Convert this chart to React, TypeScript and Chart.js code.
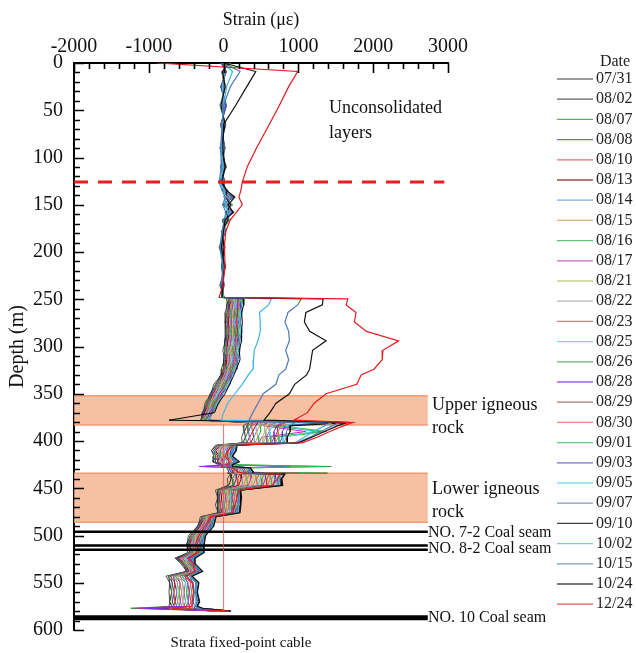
import React, { useEffect, useRef } from 'react';
import { Chart, registerables } from 'chart.js';

Chart.register(...registerables);

const FONT = "'Liberation Serif', 'Times New Roman', serif";

// Depth sampling points (m) shared by every series
const DEPTHS = [
  0, 9, 25, 45, 65, 90, 110, 126, 135, 142, 150, 158, 166, 178, 195, 215, 235, 248,
  249.5, 256, 264, 274, 284, 294, 304, 314, 324, 330, 340, 350, 360, 370, 378, 380.5, 384, 390, 396, 402,
  404.5, 410, 416, 422, 425, 427, 428.5, 433, 434, 435, 440, 447, 452, 460, 468, 476, 480, 490, 500, 510,
  518, 524, 530, 538, 543, 550, 560, 570, 575, 577, 580,
];

const DATES = [
  '07/31', '08/02', '08/07', '08/08', '08/10', '08/13', '08/14', '08/15', '08/16', '08/17',
  '08/21', '08/22', '08/23', '08/25', '08/26', '08/28', '08/29', '08/30', '09/01', '09/03',
  '09/05', '09/07', '09/10', '10/02', '10/15', '10/24', '12/24',
];

const COLORS = [
  '#4d4d4d', '#2b2b2b', '#2e8b2e', '#3b3bb0', '#e23c3c', '#7a1010', '#5b8fd6', '#c8964a', '#2fae55', '#c02cc0',
  '#b8c060', '#9a9a9a', '#a0605a', '#44c8f0', '#3a9a3a', '#7a2ee6', '#8b4a3a', '#f05a5a', '#30c050', '#4040c8',
  '#50d0f0', '#5878a8', '#000000', '#3fb4e0', '#4f79b5', '#111111', '#e8191e',
];

// Strain (με) per series, one value per depth above
const S_0731 = [
  -40, 40, -40, 40, -40, 20, -40, 20, -20, 140, -20, 140, -20, 30, -60, 30, -50, 10,
  40, 50, 20, 30, 20, 20, -10, 10, -30, -30, -130, -170, -250, -270, -310, 330, 260, 270, 240, 250,
  -110, -160, -130, -140, -70, -10, 45, 70, 50, 90, 50, 60, -110, -80, -110, -70, -310, -340, -470, -490, -480, -640, -570, -490, -770, -720, -730, -720, -730, -890, -110,
];
const S_0802 = [
  -10, 25, -25, 20, -25, 5, -20, 0, 0, 110, 10, 115, 0, 15, -40, 15, -35, 0,
  70, 40, 50, 20, 50, 10, 20, 0, 0, -40, -100, -180, -220, -285, -285, 340, 310, 280, 290, 260,
  -80, -165, -100, -145, -40, -25, 80, 65, 85, 100, 100, 70, -75, -85, -75, -75, -280, -350, -440, -500, -450, -650, -540, -500, -735, -720, -695, -720, -695, -880, -80,
];
const S_0807 = [
  25, 10, -10, 0, -10, -10, 0, -15, 15, 75, 45, 85, 25, 0, -25, 0, -25, -10,
  60, 70, 40, 50, 40, 40, 10, 30, -10, -15, -110, -155, -235, -255, -300, 390, 320, 325, 295, 305,
  -85, -130, -110, -110, -55, 0, 75, 100, 1390, 155, 115, 125, -80, -50, -80, -45, -290, -320, -450, -470, -460, -615, -555, -470, -740, -685, -695, -685, -695, -1240, -90,
];
const S_0808 = [
  55, -10, 10, -20, 10, -30, 15, -35, 35, 45, 75, 60, 50, -10, -5, -10, -10, -15,
  90, 60, 70, 40, 70, 30, 40, 20, 15, -25, -80, -165, -205, -270, -275, 400, 365, 335, 345, 310,
  -50, -135, -75, -115, -25, 900, 105, 95, 115, 170, 170, 135, -45, -60, -45, -50, -265, -335, -420, -480, -430, -625, -525, -485, -705, -690, -660, -685, -660, -830, -65,
];
const S_0810 = [
  90, -25, 25, -40, 25, -45, 30, -55, 50, 15, 110, 30, 70, -25, 10, -25, 5, -25,
  80, 90, 60, 70, 60, 60, 30, 50, 5, 0, -90, -135, -215, -245, -290, 455, 375, 385, 350, 360,
  -60, -100, -85, -80, -35, 10, 100, 130, 110, 220, 180, 190, -50, -25, -50, -20, -275, -305, -430, -450, -440, -595, -535, -455, -710, -650, -665, -650, -665, -780, -75,
];
const S_0813 = [
  -25, 35, -35, 30, -35, 15, -35, 10, -15, 130, -5, 130, -10, 25, -55, 25, -45, 5,
  110, 80, 90, 60, 90, 50, 60, 40, 35, -10, -60, -145, -190, -255, -270, 465, 425, 390, 400, 365,
  -25, -110, -55, -80, -10, 0, 135, 120, 145, 235, 235, 200, -15, -30, -15, -25, -245, -315, -400, -460, -410, -605, -510, -465, -670, -655, -625, -650, -625, -1000, -45,
];
const S_0814 = [
  5, 20, -20, 10, -20, 0, -15, -5, 5, 95, 25, 100, 10, 10, -35, 10, -30, 0,
  100, 110, 80, 90, 80, 80, 50, 65, 25, 15, -75, -120, -200, -230, -285, 515, 430, 440, 405, 415,
  -35, -75, -65, -45, -20, 25, 130, 155, 135, 285, 245, 255, -20, 5, -20, 5, -255, -285, -410, -430, -425, -570, -520, -435, -675, -615, -630, -615, -630, -725, -55,
];
const S_0815 = [
  35, 0, 0, -10, 0, -20, 5, -25, 25, 65, 55, 75, 35, 0, -15, 0, -20, -10,
  130, 100, 110, 80, 110, 70, 80, 55, 55, 5, -45, -130, -175, -240, -260, 525, 480, 445, 455, 420,
  0, -80, -35, -50, 5, 10, 165, 150, 170, 300, 300, 265, 15, 0, 15, 0, -225, -295, -380, -440, -395, -580, -495, -445, -640, -620, -590, -615, -590, -720, -25,
];
const S_0816 = [
  70, -15, 15, -30, 15, -35, 20, -40, 40, 30, 90, 45, 55, -15, 0, -15, -5, -20,
  120, 130, 100, 110, 100, 100, 70, 85, 45, 30, -55, -100, -185, -215, -275, 580, 490, 495, 460, 470,
  -10, -45, -45, -15, -5, 35, 160, 185, 1200, 350, 310, 320, 10, 35, 10, 30, -235, -265, -390, -410, -405, -550, -505, -415, -645, -580, -595, -580, -595, -670, -35,
];
const S_0817 = [
  100, -30, 30, -50, 30, -50, 40, -60, 60, 0, 120, 20, 80, -30, 20, -30, 10, -30,
  150, 120, 130, 100, 130, 90, 100, 75, 70, 20, -25, -115, -155, -230, -250, 590, 535, 1100, 510, 475,
  25, -50, -10, -20, 25, -330, 190, 180, 200, 365, 365, 330, 45, 25, 45, 25, -210, -280, -360, -420, -375, -555, -475, -430, -610, -585, -560, -580, -560, -1150, -10,
];
const S_0821 = [
  -15, 30, -25, 25, -25, 10, -25, 5, -5, 115, 5, 120, 0, 20, -45, 20, -40, 0,
  140, 150, 120, 130, 120, 120, 90, 105, 60, 45, -35, -85, -170, -200, -265, 640, 545, 550, 515, 525,
  15, -15, -20, 15, 10, 45, 185, 215, 195, 415, 375, 385, 40, 60, 40, 55, -220, -250, -370, -390, -385, -525, -490, -400, -615, -545, -560, -545, -560, -615, -20,
];
const S_0822 = [
  20, 10, -10, 5, -10, -10, -10, -15, 10, 85, 40, 90, 20, 5, -30, 5, -25, -5,
  170, 140, 150, 120, 150, 110, 120, 95, 90, 35, -5, -95, -140, -215, -240, 650, 595, 560, 565, 530,
  50, -20, 10, 10, 40, 30, 220, 210, 230, 430, 430, 395, 75, 55, 75, 50, -190, -260, -340, -400, -355, -535, -460, -410, -580, -550, -525, -545, -525, -610, 10,
];
const S_0823 = [
  50, -5, 5, -15, 5, -25, 10, -30, 30, 50, 70, 65, 45, -10, -10, -10, -10, -15,
  160, 170, 140, 150, 140, 140, 110, 125, 80, 60, -15, -65, -150, -190, -255, 700, 605, 610, 570, 580,
  40, 15, 0, 45, 30, 55, 215, 245, 1000, 480, 440, 450, 70, 90, 70, 80, -200, -230, -350, -370, -365, -505, -470, -380, -585, -510, -530, -510, -530, -560, 0,
];
const S_0825 = [
  80, -20, 20, -40, 20, -40, 30, -50, 50, 20, 100, 35, 65, -20, 10, -20, 0, -25,
  190, 160, 170, 140, 170, 130, 140, 115, 110, 50, 15, -80, -125, -200, -230, 715, 650, 615, 620, 585,
  75, 10, 30, 40, 55, 40, 250, 240, 260, 495, 495, 460, 105, 85, 105, 75, -170, -240, -320, -380, -335, -510, -445, -390, -550, -510, -490, -510, -490, -555, 30,
];
const S_0826 = [
  -35, 35, -35, 35, -35, 15, -35, 15, -15, 135, -15, 135, -15, 25, -55, 25, -45, 10,
  180, 190, 160, 170, 160, 160, 130, 145, 95, 80, 5, -50, -135, -175, -245, 1500, 660, 1300, 630, 630,
  70, 45, 25, 75, 45, 1440, 240, 275, 255, 550, 510, 510, 100, 115, 100, 110, -185, -215, -330, -350, -345, -480, -455, -365, -555, -475, -495, -470, -495, -510, 15,
];
const S_0828 = [
  0, 20, -20, 15, -20, 0, -20, 0, 0, 100, 20, 110, 5, 15, -40, 15, -35, 0,
  210, 180, 190, 160, 190, 150, 160, 130, 125, 65, 30, -60, -105, -190, -220, 775, 710, 675, 675, 640,
  100, 35, 55, 70, 75, -250, 275, 270, 290, 560, 560, 525, 135, 110, 135, 100, -155, -225, -300, -360, -320, -490, -425, -375, -520, -480, -460, -475, -460, -1050, 45,
];
const S_0829 = [
  30, 5, -5, -5, -5, -15, 0, -20, 20, 70, 50, 80, 30, 0, -20, 0, -20, -10,
  200, 210, 180, 190, 180, 180, 150, 160, 115, 95, 20, -30, -120, -160, -240, 825, 720, 720, 685, 685,
  95, 70, 45, 110, 60, 80, 270, 300, 280, 615, 575, 575, 130, 145, 130, 135, -165, -195, -310, -330, -330, -460, -440, -345, -520, -440, -460, -435, -460, -455, 35,
];
const S_0830 = [
  60, -10, 10, -25, 10, -30, 20, -40, 40, 40, 80, 55, 50, -15, 0, -15, -5, -20,
  230, 200, 210, 180, 210, 170, 180, 150, 145, 80, 50, -45, -90, -175, -215, 835, 765, 730, 730, 695,
  125, 65, 75, 105, 90, 65, 305, 295, 315, 625, 625, 590, 165, 140, 165, 125, -135, -205, -280, -340, -300, -465, -410, -355, -485, -445, -425, -440, -425, -445, 65,
];
const S_0901 = [
  95, -25, 25, -45, 25, -45, 35, -55, 55, 5, 115, 25, 75, -25, 15, -25, 5, -30,
  220, 230, 200, 210, 200, 200, 170, 180, 135, 110, 40, -15, -100, -150, -230, 1600, 775, 1380, 740, 740,
  120, 100, 65, 140, 80, 1300, 300, 330, 310, 680, 640, 640, 160, 175, 160, 160, -145, -175, -290, -310, -310, -435, -420, -325, -490, -405, -430, -400, -430, -400, 55,
];
const S_0903 = [
  -20, 30, -30, 30, -30, 10, -30, 10, -10, 120, 0, 125, -5, 20, -50, 20, -40, 5,
  250, 220, 230, 200, 230, 190, 200, 170, 165, 95, 70, -25, -75, -160, -205, 1350, 825, 785, 785, 750,
  150, 95, 95, 135, 105, 75, 335, 325, 345, 690, 690, 655, 195, 170, 195, 150, -115, -185, -260, -320, -280, -445, -395, -335, -455, -410, -390, -405, -390, -390, 85,
];
const S_0905 = [
  10, 15, -15, 5, -15, -5, -10, -10, 10, 90, 30, 95, 15, 10, -30, 10, -30, -5,
  240, 250, 220, 230, 220, 220, 190, 200, 150, 125, 60, 0, -85, -135, -220, 950, 830, 1200, 795, 795,
  145, 130, 90, 170, 95, 100, 325, 360, 340, 745, 705, 705, 190, 200, 190, 185, -130, -160, -270, -290, -290, -410, -405, -310, -460, -370, -395, -365, -395, -345, 70,
];
const S_0907 = [
  45, 0, 0, -15, 0, -20, 5, -30, 25, 60, 65, 70, 40, -5, -15, -5, -15, -15,
  270, 240, 250, 220, 250, 210, 220, 190, 180, 110, 90, -10, -60, -145, -195, 960, 880, 840, 840, 805,
  175, 125, 120, 165, 120, 85, 360, 355, 375, 755, 755, 720, 225, 195, 225, 175, -100, -170, -240, -300, -260, -420, -380, -320, -425, -375, -355, -370, -355, -335, 100,
];
const S_0910 = [
  75, -15, 20, -35, 20, -35, 25, -45, 45, 25, 95, 40, 60, -20, 5, -20, 0, -25,
  260, 270, 240, 250, 240, 240, 210, 220, 170, 140, 80, 20, -70, -120, -730, 1700, 890, 890, 850, 850,
  170, 160, 110, 200, 110, 110, 355, 390, 370, 810, 770, 770, 220, 230, 220, 210, -110, -140, -250, -270, -270, -390, -390, -290, -430, -335, -360, -330, -360, -290, 90,
];
const S_1002 = [
  0, 120, 40, 0, -20, -30, -10, -40, 0, 30, 20, 60, 10, -10, -40, 0, -20, -10,
  640, 600, 480, 490, 490, 460, 410, 400, 395, 330, 250, 150, 55, 0, -30, 1450, 1350, 1200, 1080, 950,
  160, 140, 100, 180, 100, 95, 340, 370, 360, 780, 740, 740, 200, 210, 200, 190, -120, -150, -260, -280, -280, -400, -400, -300, -440, -350, -370, -345, -370, -300, 80,
];
const S_1015 = [
  0, 220, 90, 0, -20, -40, -30, -60, -20, 20, -10, 30, 10, -20, -50, -10, -30, -20,
  1040, 990, 860, 820, 870, 880, 830, 870, 830, 740, 700, 530, 460, 390, 340, 1550, 1450, 1300, 1150, 980,
  140, 120, 90, 160, 90, 90, 330, 360, 350, 760, 720, 730, 190, 200, 190, 180, -130, -160, -270, -290, -290, -410, -410, -310, -450, -360, -380, -350, -380, -310, 60,
];
const S_1024 = [
  0, 430, 310, 160, 0, -10, 20, -20, 40, 150, 60, 130, 20, 0, -30, 10, -10, -20,
  1330, 1320, 1100, 1080, 1150, 1370, 1190, 1170, 1150, 1110, 950, 880, 700, 620, 540, 1650, 1520, 1350, 1180, 1000,
  180, 170, 120, 210, 120, 120, 360, 400, 380, 820, 780, 790, 230, 240, 230, 220, -100, -130, -240, -260, -260, -380, -380, -280, -420, -330, -350, -320, -350, -280, 100,
];
const S_1224 = [
  -900, 990, 870, 745, 610, 440, 315, 250, 230, 205, 250, 170, 90, 30, 10, 20, -10, -60,
  1660, 1640, 1770, 1750, 1910, 2340, 2130, 2120, 2010, 1840, 1780, 1370, 1210, 1120, 940, 1730, 1600, 1420, 1250, 1050,
  130, 60, 20, 80, 40, 50, 120, 200, 260, 760, 720, 650, 200, 180, 150, 120, -170, -250, -330, -380, -360, -470, -400, -390, -500, -420, -400, -420, -420, -700, 70,
];

const SERIES = [
  S_0731, S_0802, S_0807, S_0808, S_0810, S_0813, S_0814, S_0815, S_0816, S_0817,
  S_0821, S_0822, S_0823, S_0825, S_0826, S_0828, S_0829, S_0830, S_0901, S_0903,
  S_0905, S_0907, S_0910, S_1002, S_1015, S_1024, S_1224,
];

// Annotations (depth in m, strain in με)
const IGNEOUS_BANDS = [[352, 383], [434, 486]];
const BAND_RIGHT = 2730;
const DASHED_DEPTH = 126;
const DASHED_RIGHT = 2950;
const SEAM_LINES = [496, 510.5, 515];
const SEAM_10 = 587;
const CABLE_LINE = { strain: 0, from: 383, to: 580 };

const overlayPlugin = {
  id: 'overlay',
  beforeDatasetsDraw(chart: any) {
    const { ctx, scales } = chart;
    const x = scales.x, y = scales.y;
    ctx.save();
    const x0 = x.getPixelForValue(-2000);
    const x1 = x.getPixelForValue(BAND_RIGHT);
    for (const [a, b] of IGNEOUS_BANDS) {
      const y0 = y.getPixelForValue(a), y1 = y.getPixelForValue(b);
      ctx.fillStyle = 'rgba(247,178,142,0.82)';
      ctx.fillRect(x0, y0, x1 - x0, y1 - y0);
      ctx.strokeStyle = 'rgba(240,150,110,0.9)';
      ctx.lineWidth = 1.5;
      ctx.beginPath();
      ctx.moveTo(x0, y0); ctx.lineTo(x1, y0);
      ctx.moveTo(x0, y1); ctx.lineTo(x1, y1);
      ctx.stroke();
    }
    ctx.restore();
  },
  afterDatasetsDraw(chart: any) {
    const { ctx, scales, chartArea } = chart;
    const x = scales.x, y = scales.y;
    ctx.save();
    // red dashed line
    ctx.strokeStyle = '#ee1c1c';
    ctx.lineWidth = 3;
    ctx.setLineDash([14, 10]);
    ctx.beginPath();
    const yd = y.getPixelForValue(DASHED_DEPTH);
    ctx.moveTo(x.getPixelForValue(-2000), yd);
    ctx.lineTo(x.getPixelForValue(DASHED_RIGHT), yd);
    ctx.stroke();
    ctx.setLineDash([]);
    // coal seam lines
    ctx.strokeStyle = '#000';
    ctx.lineWidth = 2.5;
    const xl = x.getPixelForValue(-2000), xr = x.getPixelForValue(BAND_RIGHT);
    for (const d of SEAM_LINES) {
      const yy = y.getPixelForValue(d);
      ctx.beginPath(); ctx.moveTo(xl, yy); ctx.lineTo(xr, yy); ctx.stroke();
    }
    ctx.lineWidth = 5;
    const y10 = y.getPixelForValue(SEAM_10);
    ctx.beginPath(); ctx.moveTo(xl, y10); ctx.lineTo(xr, y10); ctx.stroke();
    // cable reference line
    ctx.strokeStyle = 'rgba(240,70,70,0.8)';
    ctx.lineWidth = 1;
    const xc = x.getPixelForValue(CABLE_LINE.strain);
    ctx.beginPath();
    ctx.moveTo(xc, y.getPixelForValue(CABLE_LINE.from));
    ctx.lineTo(xc, y.getPixelForValue(CABLE_LINE.to));
    ctx.stroke();
    // inner tick marks
    ctx.strokeStyle = '#000';
    ctx.lineWidth = 1.6;
    ctx.beginPath();
    for (let v = 0; v <= 600; v += 10) {
      const py = Math.round(y.getPixelForValue(v)) + 0.5;
      const len = v % 50 === 0 ? 10 : 6;
      ctx.moveTo(chartArea.left, py); ctx.lineTo(chartArea.left + len, py);
    }
    for (let v = -2000; v <= 3000; v += 200) {
      const px = Math.round(x.getPixelForValue(v)) + 0.5;
      const len = v % 1000 === 0 ? 10 : 6;
      ctx.moveTo(px, chartArea.top); ctx.lineTo(px, chartArea.top + len);
    }
    ctx.stroke();
    ctx.restore();
  },
  afterDraw(chart: any) {
    const { ctx, scales } = chart;
    const x = scales.x, y = scales.y;
    ctx.save();
    ctx.fillStyle = '#111';
    ctx.textBaseline = 'middle';
    ctx.textAlign = 'left';
    ctx.font = `18px ${FONT}`;
    ctx.fillText('Unconsolidated', 329, 108);
    ctx.fillText('layers', 329, 133);
    ctx.fillText('Upper igneous', 432, 405);
    ctx.fillText('rock', 432, 428);
    ctx.fillText('Lower igneous', 432, 489);
    ctx.fillText('rock', 432, 512);
    ctx.font = `16px ${FONT}`;
    ctx.fillText('NO. 7-2 Coal seam', 428, y.getPixelForValue(SEAM_LINES[0]) + 1);
    ctx.fillText('NO. 8-2 Coal seam', 428, y.getPixelForValue(SEAM_LINES[2]) - 1);
    ctx.fillText('NO. 10 Coal seam', 428, y.getPixelForValue(SEAM_10));
    ctx.textAlign = 'center';
    ctx.font = `15px ${FONT}`;
    ctx.fillText('Strata fixed-point cable', 241, 643);
    // legend
    ctx.font = `16px ${FONT}`;
    ctx.textAlign = 'center';
    ctx.fillStyle = '#222';
    ctx.fillText('Date', 615, 62);
    ctx.textAlign = 'left';
    DATES.forEach((d, i) => {
      const ly = 79 + i * 20.2;
      ctx.strokeStyle = COLORS[i];
      ctx.globalAlpha = 0.75;
      ctx.lineWidth = 1.3;
      ctx.beginPath(); ctx.moveTo(557, ly); ctx.lineTo(593, ly); ctx.stroke();
      ctx.globalAlpha = 1;
      ctx.fillStyle = '#222';
      ctx.fillText(d, 596, ly);
    });
    ctx.restore();
  },
};

export default function App() {
  const canvasRef = useRef<HTMLCanvasElement | null>(null);

  useEffect(() => {
    const canvas = canvasRef.current;
    if (!canvas) return;
    const datasets = SERIES.map((vals, i) => ({
      label: DATES[i],
      data: DEPTHS.map((d, j) => ({ x: vals[j], y: d })).filter((p) => p.x !== undefined),
      borderColor: COLORS[i],
      backgroundColor: COLORS[i],
      borderWidth: i >= 23 ? 1.2 : 1,
      showLine: true,
      pointRadius: 0,
      tension: 0,
      fill: false,
      order: SERIES.length - 1 - i,
    }));
    const chart = new Chart(canvas, {
      type: 'scatter',
      data: { datasets },
      options: {
        responsive: false,
        animation: false,
        devicePixelRatio: 1,
        layout: { padding: { left: 0, right: 188, top: 0, bottom: 19 } },
        plugins: { legend: { display: false }, tooltip: { enabled: false } },
        scales: {
          x: {
            type: 'linear',
            position: 'top',
            min: -2000,
            max: 3000,
            afterFit: (s: any) => { s.height = 63; },
            ticks: {
              stepSize: 1000,
              padding: 4,
              color: '#111',
              autoSkip: false,
              maxRotation: 0,
              font: { family: FONT, size: 20 },
              callback: (v: any) => String(v),
            },
            grid: { display: false, drawTicks: false },
            border: { display: true, color: '#000', width: 2 },
            title: {
              display: true,
              text: 'Strain (με)',
              color: '#111',
              font: { family: FONT, size: 18 },
              padding: { top: 9, bottom: 0 },
            },
          },
          y: {
            type: 'linear',
            reverse: true,
            min: 0,
            max: 600,
            afterFit: (s: any) => { s.width = 74; },
            ticks: {
              stepSize: 50,
              padding: 11,
              color: '#111',
              autoSkip: false,
              font: { family: FONT, size: 20 },
              callback: (v: any) => String(v),
            },
            grid: { display: false, drawTicks: false },
            border: { display: true, color: '#000', width: 2 },
            title: {
              display: true,
              text: 'Depth (m)',
              color: '#111',
              font: { family: FONT, size: 20 },
              padding: { top: 6, bottom: 0 },
            },
          },
        },
      },
      plugins: [overlayPlugin],
    });
    return () => chart.destroy();
  }, []);

  return (
    <div style={{ position: 'fixed', left: 0, top: 0, width: 636, height: 653, background: '#fff' }}>
      <canvas ref={canvasRef} width={636} height={653} style={{ display: 'block', width: 636, height: 653 }} />
    </div>
  );
}
